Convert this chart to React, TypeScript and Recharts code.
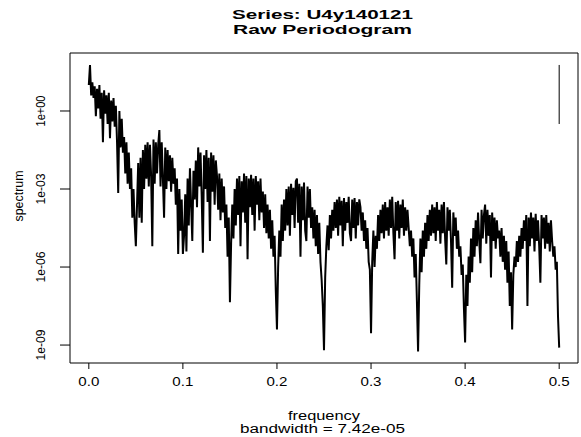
import { LineChart, Line, XAxis, YAxis, ReferenceArea, ReferenceLine } from "recharts"

// frequency grid: 10 bands of 0.05, 40 raw ordinates each, plus the Nyquist point
const bandWidthFreq = 0.05
const stepFreq = 0.00125
const freqTicks = [0, 0.1, 0.2, 0.3, 0.4, 0.5]
const specTicks = [1, 1e-3, 1e-6, 1e-9]

// log10(spectrum)
const band1 = [1.0, 1.77, 0.6, 1.1, 0.5, 0.95, -0.2, 0.85, 0.1, 1.0, -0.3, 0.7, -1.2, 0.8, -0.1, 0.6, -0.5, 0.7, -1.05, 0.4, -0.4, 0.5, -0.6, 0.2, -1.2, -3.15, 0.0, -1.4, -0.3, -1.6, -1.0, -2.4, -1.2, -2.8, -1.6, -3.0, -2.2, -4.1, -3.0, -4.3]
const band2 = [-5.2, -3.6, -2.0, -4.1, -1.8, -4.3, -1.5, -3.0, -1.3, -2.6, -1.2, -2.9, -1.3, -2.5, -5.2, -1.1, -2.8, -1.2, -2.4, -1.3, -0.73, -2.9, -1.2, -2.6, -4.1, -1.4, -3.0, -1.5, -2.7, -1.7, -3.1, -1.8, -2.8, -2.2, -3.6, -2.6, -5.5, -3.0, -4.6, -3.4]
const band3 = [-5.5, -4.8, -3.2, -5.4, -2.6, -4.4, -2.2, -3.6, -5.0, -2.3, -3.4, -1.9, -3.7, -1.4, -2.9, -1.6, -3.3, -5.45, -1.7, -3.0, -1.5, -3.5, -1.8, -5.0, -1.6, -3.1, -1.7, -3.6, -1.9, -2.5, -3.8, -2.4, -4.2, -2.6, -3.9, -2.9, -4.5, -3.6, -5.6, -4.1]
const band4 = [-7.35, -5.1, -3.6, -4.9, -3.0, -4.4, -2.6, -4.0, -2.5, -5.2, -2.7, -3.9, -2.4, -4.3, -2.5, -5.7, -2.6, -3.7, -2.45, -4.0, -2.6, -4.6, -2.5, -3.6, -2.7, -4.2, -2.6, -3.9, -3.1, -4.5, -3.2, -4.7, -3.6, -4.9, -3.8, -5.3, -4.2, -5.6, -4.8, -6.9]
const band5 = [-8.4, -6.0, -4.6, -5.6, -3.6, -5.0, -3.4, -4.6, -3.0, -4.4, -2.9, -4.8, -2.8, -4.0, -2.95, -4.5, -2.7, -2.6, -4.3, -2.8, -5.6, -2.9, -4.2, -2.75, -4.6, -5.0, -2.9, -4.1, -3.0, -4.5, -3.7, -4.9, -3.8, -5.2, -4.0, -5.5, -4.3, -5.8, -6.5, -7.5]
const band6 = [-9.2, -6.4, -5.2, -4.4, -5.35, -4.0, -4.9, -3.8, -4.6, -3.5, -4.5, -3.4, -4.8, -3.3, -4.4, -3.45, -5.2, -3.35, -4.6, -3.5, -4.3, -3.3, -4.7, -5.0, -3.4, -4.5, -3.35, -4.9, -3.5, -4.4, -3.4, -3.7, -4.6, -3.9, -5.0, -4.2, -5.3, -4.5, -5.8, -6.1]
const band7 = [-8.55, -5.8, -4.6, -6.0, -4.8, -5.3, -4.0, -5.0, -3.8, -4.7, -3.6, -4.9, -3.5, -4.6, -3.7, -4.8, -3.4, -4.5, -3.3, -4.7, -5.7, -3.5, -4.6, -3.45, -4.9, -3.6, -4.5, -3.4, -4.8, -3.7, -4.6, -3.8, -4.5, -5.2, -4.6, -5.6, -4.9, -6.4, -5.5, -7.3]
const band8 = [-9.25, -6.7, -4.9, -6.2, -4.6, -5.6, -4.3, -5.3, -4.0, -5.0, -3.8, -4.8, -3.6, -4.7, -3.7, -5.0, -3.5, -4.6, -3.8, -5.1, -3.6, -4.7, -3.5, -4.9, -5.9, -3.7, -4.6, -3.8, -5.0, -6.8, -3.9, -4.8, -4.1, -5.3, -4.6, -5.6, -5.2, -6.3, -5.9, -7.6]
const band9 = [-8.9, -6.3, -7.5, -5.6, -6.6, -4.9, -6.2, -4.5, -5.6, -4.2, -5.2, -3.9, -5.0, -5.85, -3.8, -4.9, -4.0, -3.6, -5.1, -3.8, -4.8, -4.0, -6.4, -3.9, -5.0, -4.1, -5.3, -4.2, -4.9, -4.6, -5.6, -4.5, -5.8, -4.8, -6.1, -5.0, -6.6, -5.4, -7.5, -6.2]
const band10 = [-8.4, -6.3, -5.6, -6.0, -5.0, -5.8, -4.8, -5.6, -4.5, -5.3, -4.2, -5.0, -4.0, -7.5, -4.1, -5.2, -3.9, -4.9, -4.1, -5.4, -3.95, -5.0, -4.2, -5.2, -6.6, -4.0, -4.9, -4.1, -5.3, -4.0, -5.1, -4.3, -5.4, -4.2, -5.0, -5.6, -5.2, -6.1, -5.8, -7.9]
const nyquistLog = -9.1

// confidence bar in the top right corner (log10 ends)
const ciFreq = 0.5
const ciLog = [1.77, -0.5]

const yLogRange = [-9.69, 2.23]
const xRange = [-0.02, 0.52]

const bands = [band1, band2, band3, band4, band5, band6, band7, band8, band9, band10]
const data = bands.flatMap((b, k) =>
  b.map((v, i) => ({ freq: k * bandWidthFreq + i * stepFreq, spec: 10 ** v }))
)
data.push({ freq: 0.5, spec: 10 ** nyquistLog })

const yMin = 10 ** yLogRange[0]
const yMax = 10 ** yLogRange[1]

const font = '"Liberation Sans", Arial, sans-serif'

function fmtExp(v: number) {
  const e = Math.round(Math.log10(v))
  const a = Math.abs(e)
  return `1e${e < 0 ? "-" : "+"}${a < 10 ? "0" + a : a}`
}

function XTick(props: any) {
  const { x, y, payload } = props
  return (
    <text x={x} y={y + 15} textAnchor="middle" fontSize={13} fontFamily={font} fill="#000"
      textLength={21} lengthAdjust="spacingAndGlyphs">
      {Number(payload.value).toFixed(1)}
    </text>
  )
}

function YTick(props: any) {
  const { x, y, payload } = props
  const bx = x - 13
  return (
    <text x={bx} y={y} transform={`rotate(-90, ${bx}, ${y})`} textAnchor="middle" fontSize={13}
      fontFamily={font} fill="#000" textLength={31} lengthAdjust="spacingAndGlyphs">
      {fmtExp(payload.value)}
    </text>
  )
}

export default function App() {
  return (
    <div style={{ position: "absolute", left: 0, top: 0, width: 581, height: 437, background: "#fff" }}>
      <LineChart width={581} height={437} data={data} margin={{ top: 53, right: 3, bottom: 0, left: 0 }}>
        <XAxis
          type="number"
          dataKey="freq"
          domain={xRange}
          ticks={freqTicks}
          allowDataOverflow
          axisLine={false}
          tickLine={{ stroke: "#000" }}
          tickSize={6}
          height={74}
          tick={<XTick />}
        />
        <YAxis
          type="number"
          scale="log"
          domain={[yMin, yMax]}
          ticks={specTicks}
          allowDataOverflow
          axisLine={false}
          tickLine={{ stroke: "#000" }}
          tickSize={10}
          width={70}
          tick={<YTick />}
        />
        <ReferenceArea x1={xRange[0]} x2={xRange[1]} y1={yMin} y2={yMax} fill="none" fillOpacity={0}
          stroke="#000" strokeWidth={1} strokeOpacity={1} />
        <Line
          type="linear"
          dataKey="spec"
          stroke="#000"
          strokeWidth={2}
          strokeLinejoin="miter"
          dot={false}
          isAnimationActive={false}
        />
        <ReferenceLine
          segment={[{ x: ciFreq, y: 10 ** ciLog[0] }, { x: ciFreq, y: 10 ** ciLog[1] }]}
          stroke="#000"
          strokeWidth={1}
        />
      </LineChart>
      <svg width={581} height={437} style={{ position: "absolute", left: 0, top: 0, pointerEvents: "none" }}>
        <g fontFamily={font} fill="#000" textAnchor="middle">
          <text x={322.5} y={19} fontSize={13} fontWeight="bold" textLength={181} lengthAdjust="spacingAndGlyphs">
            Series: U4y140121
          </text>
          <text x={322.5} y={34} fontSize={13} fontWeight="bold" textLength={179} lengthAdjust="spacingAndGlyphs">
            Raw Periodogram
          </text>
          <text x={324} y={420} fontSize={12} textLength={72} lengthAdjust="spacingAndGlyphs">
            frequency
          </text>
          <text x={322.5} y={433} fontSize={12} textLength={165} lengthAdjust="spacingAndGlyphs">
            bandwidth = 7.42e-05
          </text>
          <text x={23} y={196} fontSize={13} transform="rotate(-90, 23, 196)" textLength={51}
            lengthAdjust="spacingAndGlyphs">
            spectrum
          </text>
        </g>
      </svg>
    </div>
  )
}
